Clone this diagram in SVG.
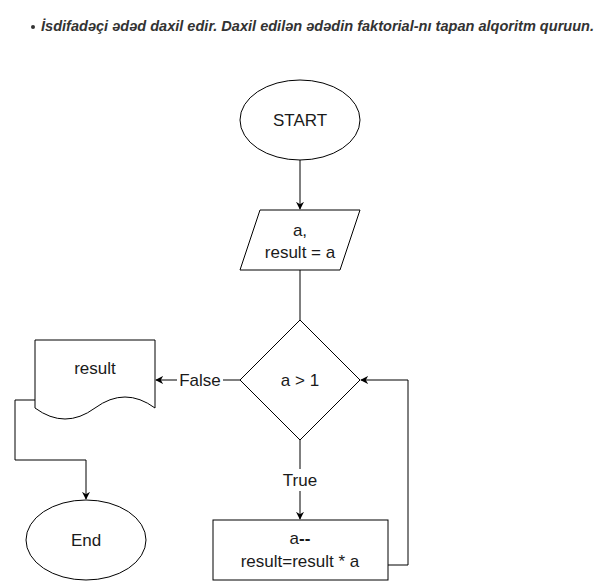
<svg xmlns="http://www.w3.org/2000/svg" width="601" height="581" viewBox="0 0 601 581">
<style>
.s{fill:#fff;stroke:#000;stroke-width:1}
.t{font-family:"Liberation Sans",Arial,sans-serif;font-size:17px;fill:#1a1a1a;text-anchor:middle}
.c{fill:none;stroke:#000;stroke-width:1}
.title{font-family:"Liberation Sans",Arial,sans-serif;font-size:14px;font-weight:bold;font-style:italic;fill:#333}
</style>
<defs>
<marker id="ar" viewBox="0 0 10 10" refX="9" refY="5" markerWidth="8" markerHeight="8" markerUnits="userSpaceOnUse" orient="auto">
<path d="M0,0 L10,5 L0,10 L3,5 Z" fill="#000"/>
</marker>
</defs>
<rect width="601" height="581" fill="#fff"/>
<g id="title">
<circle cx="33" cy="27" r="2" fill="#333"/>
<text class="title" x="41" y="31" textLength="553" lengthAdjust="spacingAndGlyphs">İsdifadəçi ədəd daxil edir. Daxil edilən ədədin faktorial-nı tapan alqoritm quruun.</text>
</g>
<g id="connectors">
<path class="c" d="M300,160 V209" marker-end="url(#ar)"/>
<path class="c" d="M300,270 V320"/>
<path class="c" d="M240,380 H156" marker-end="url(#ar)"/>
<path class="c" d="M300,440 V519" marker-end="url(#ar)"/>
<path class="c" d="M388,565 H408 V380 H361" marker-end="url(#ar)"/>
<path class="c" d="M35,400 H15 V460 H86 V499" marker-end="url(#ar)"/>
<rect x="177" y="370" width="46" height="20" fill="#fff"/>
<text class="t" x="200" y="386">False</text>
<rect x="281" y="469" width="38" height="22" fill="#fff"/>
<text class="t" x="300" y="486">True</text>
</g>
<g id="start">
<ellipse class="s" cx="300" cy="120" rx="60" ry="40"/>
<text class="t" x="300" y="126">START</text>
</g>
<g id="input">
<path class="s" d="M260,210 H360 L340,270 H240 Z"/>
<text class="t" x="300" y="236">a,</text>
<text class="t" x="300" y="258">result = a</text>
</g>
<g id="decision">
<path class="s" d="M300,320 L360,380 L300,440 L240,380 Z"/>
<text class="t" x="300" y="386">a &gt; 1</text>
</g>
<g id="output">
<path class="s" d="M35,340 H155 V408 Q125,386 95,408 Q65,430 35,408 Z"/>
<text class="t" x="95" y="374">result</text>
</g>
<g id="end">
<ellipse class="s" cx="86" cy="540" rx="60" ry="40"/>
<text class="t" x="86" y="546">End</text>
</g>
<g id="process">
<rect class="s" x="213" y="520" width="175" height="60"/>
<text class="t" x="300" y="544">a<tspan font-weight="bold">--</tspan></text>
<text class="t" x="300" y="567">result=result * a</text>
</g>
</svg>
